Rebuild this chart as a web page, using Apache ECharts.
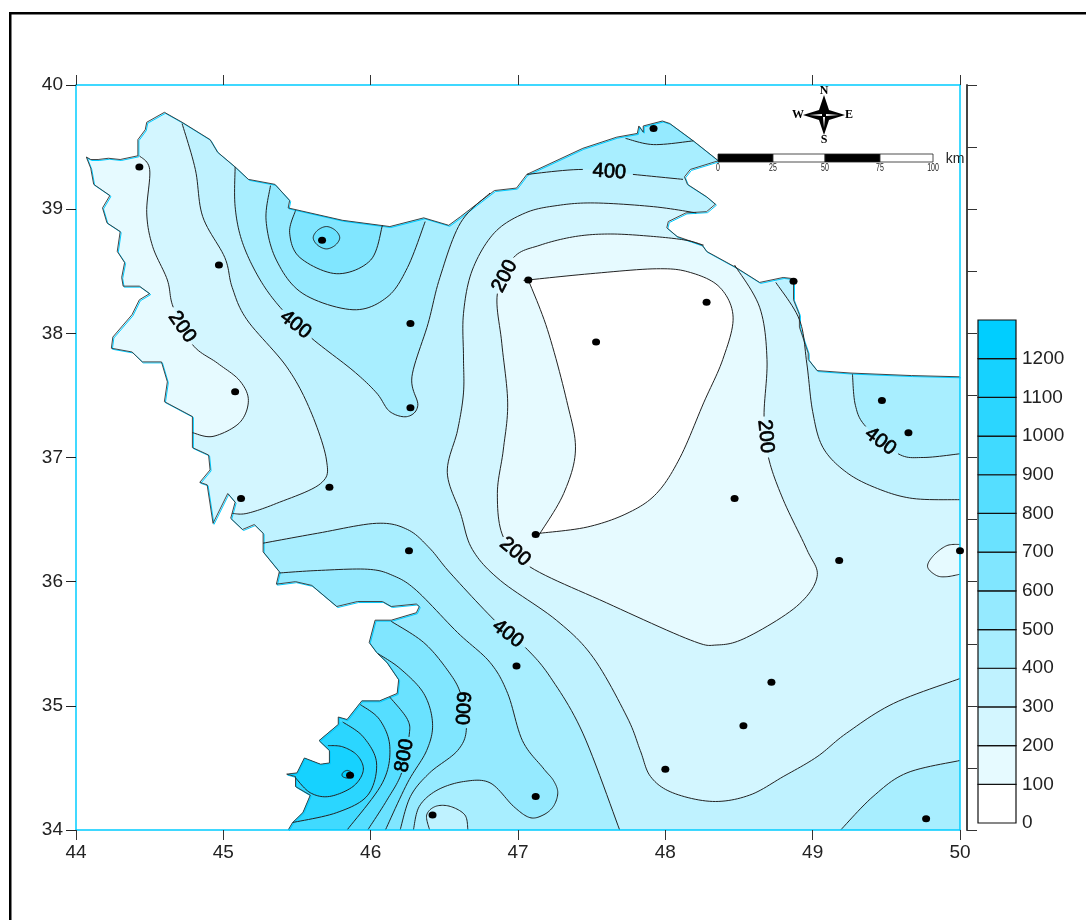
<!DOCTYPE html>
<html><head><meta charset="utf-8">
<style>html,body{margin:0;padding:0;background:#fff;overflow:hidden}#c{width:1086px;height:920px}</style>
<script src="https://cdn.jsdelivr.net/npm/echarts@6/dist/echarts.min.js"></script>
</head><body><div id="c"></div>
<script>
// ---------- data (lon, lat) ----------
const xTicks=[44,45,46,47,48,49,50];
const yTicks=[34,35,36,37,38,39,40];
const legendLevels=[0,100,200,300,400,500,600,700,800,900,1000,1100,1200];
const legendColors=['#FFFFFF','#E6FAFF','#D3F6FF','#BFF2FF','#A8EEFF','#95EAFF','#80E6FF','#6AE2FF','#55DEFF','#40DAFF','#2BD6FF','#16D2FF','#00CEFF'];
const stations=[[44.43,39.34],[44.97,38.55],[45.08,37.53],[45.12,36.67],[45.72,36.76],[45.67,38.75],[46.27,38.08],[46.27,37.40],[47.07,38.43],[47.92,39.65],[48.28,38.25],[47.53,37.93],[48.87,38.42],[47.12,36.38],[48.47,36.67],[46.26,36.25],[49.18,36.17],[50,36.25],[49.47,37.46],[49.65,37.20],[46.99,35.32],[48.72,35.19],[48.53,34.84],[48.00,34.49],[45.86,34.44],[47.12,34.27],[46.42,34.12],[49.77,34.09]];
const boundaryNorth=[[44.07,39.42],[44.10,39.40],[44.15,39.40],[44.22,39.41],[44.30,39.40],[44.42,39.43],[44.42,39.56],[44.47,39.64],[44.48,39.70],[44.60,39.78],[44.72,39.70],[44.91,39.56],[44.96,39.46],[45.08,39.34],[45.17,39.24],[45.35,39.20],[45.45,39.07],[45.44,39.01],[45.81,38.91],[46.13,38.86],[46.36,38.93],[46.53,38.87],[46.61,38.94],[46.84,39.15],[46.99,39.17],[47.06,39.28],[47.44,39.49],[47.67,39.58],[47.81,39.61],[47.82,39.67],[47.85,39.62],[47.85,39.67],[47.98,39.71],[48.03,39.69],[48.19,39.55],[48.36,39.39],[48.17,39.32],[48.13,39.26],[48.15,39.20],[48.28,39.10],[48.34,39.04],[48.28,38.98],[48.14,38.97],[48.02,38.90],[48.01,38.85],[48.08,38.78],[48.25,38.71],[48.28,38.66],[48.48,38.53],[48.64,38.41],[48.80,38.45],[48.87,38.44],[48.87,38.27],[48.91,38.15],[48.91,38.05],[48.97,37.84],[48.97,37.79],[49.03,37.70],[49.26,37.68],[49.67,37.66],[50,37.65]];
const boundaryCorner=[[50,34]];
const boundarySouth=[[45.44,34],[45.47,34.06],[45.54,34.14],[45.59,34.28],[45.49,34.35],[45.49,34.43],[45.43,34.45],[45.50,34.46],[45.55,34.58],[45.66,34.53],[45.72,34.54],[45.72,34.64],[45.65,34.72],[45.78,34.85],[45.78,34.91],[45.84,34.89],[45.94,35.04],[46.06,35.04],[46.18,35.10],[46.19,35.21],[46.11,35.35],[46.04,35.43],[45.99,35.51],[46.03,35.69],[46.14,35.69],[46.31,35.75],[46.33,35.80],[46.31,35.82],[46.14,35.80],[46.08,35.84],[45.91,35.84],[45.77,35.80],[45.60,35.97],[45.49,36.00],[45.36,35.98],[45.38,36.08],[45.27,36.24],[45.27,36.39],[45.21,36.46],[45.13,36.42],[45.05,36.51],[45.08,36.64],[45.03,36.71],[44.93,36.47],[44.89,36.78],[44.84,36.80],[44.91,36.90],[44.90,37.02],[44.79,37.08],[44.79,37.33],[44.60,37.45],[44.62,37.61],[44.58,37.77],[44.45,37.77],[44.38,37.85],[44.24,37.88],[44.25,37.97],[44.38,38.15],[44.43,38.27],[44.50,38.32],[44.43,38.38],[44.32,38.38],[44.31,38.45],[44.33,38.57],[44.28,38.66],[44.30,38.82],[44.21,38.89],[44.18,39.01],[44.23,39.11],[44.12,39.20],[44.10,39.33],[44.07,39.42]];

// contour lines; null marks the gap where a contour label sits
const west200=[[44.43,39.43],[44.50,39.32],[44.48,38.97],[44.52,38.70],[44.62,38.43],[44.66,38.21],null,[44.79,37.91],[44.96,37.76],[45.11,37.62],[45.17,37.46],[45.11,37.28],[44.93,37.17],[44.79,37.20]];
const west200Out=[[44.5,37.1],[43.9,37.1],[43.8,39.55],[44.23,39.55]];
const west300=[[44.72,39.69],[44.81,39.32],[44.86,38.94],[45.01,38.61],[45.06,38.37],[45.16,38.11],[45.43,37.73],[45.59,37.38],[45.70,36.98],[45.66,36.79],[45.36,36.63],[45.16,36.55],[45.06,36.55]];
const west300Out=[[44.94,36.34],[43.8,37],[43.75,39.8],[44.67,39.88]];
const nw400=[[45.08,39.34],[45.08,39.02],[45.13,38.73],[45.25,38.43],[45.40,38.19],null,[45.60,37.96],[45.88,37.70],[46.04,37.52],[46.13,37.37],[46.25,37.33],[46.32,37.42],[46.28,37.65],[46.39,38.08],[46.47,38.45],[46.61,38.89],[46.81,39.13]];
const nw400Out=[[46.81,39.32],[45.11,39.56]];
const nw500=[[45.32,39.19],[45.29,38.91],[45.36,38.59],[45.54,38.32],[45.88,38.19],[46.11,38.29],[46.25,38.53],[46.37,38.90]];
const nw500Out=[[46.37,39.2],[45.32,39.5]];
const nw600=[[45.49,38.99],[45.45,38.81],[45.52,38.61],[45.77,38.48],[46.00,38.59],[46.08,38.87]];
const nw600Out=[[46.08,39.1],[45.49,39.2]];
const nw700=[[45.61,38.77],[45.64,38.83],[45.70,38.86],[45.76,38.83],[45.79,38.77],[45.76,38.71],[45.70,38.68],[45.64,38.71]];
const north400=[[47.06,39.28],[47.44,39.32],null,[47.78,39.28],[48.12,39.24]];
const north400Out=[[48.5,39.24],[48.5,40],[47,40],[47,39.28]];
const north500=[[47.73,39.57],[47.92,39.52],[48.19,39.55]];
const north500Out=[[48.4,39.8],[47.7,39.8]];
const centre300=[[48.21,38.97],[47.92,39.02],[47.52,39.05],[47.27,39.03],[47.05,38.97],[46.84,38.81],[46.69,38.51],[46.63,38.16],[46.63,37.81],[46.63,37.52],[46.59,37.22],[46.52,36.88],[46.61,36.55],[46.69,36.26],[46.88,36.01],[47.26,35.69],[47.51,35.39],[47.74,34.91],[47.83,34.64],[47.90,34.43],[48.05,34.30],[48.32,34.23],[48.57,34.28],[48.80,34.43],[49.03,34.59],[49.23,34.78],[49.55,35.02],[50,35.22]];
const centre300OutA=[[51,35.22],[51,36.66]];
const east300=[[50,36.66],[49.68,36.67],[49.44,36.75],[49.23,36.88],[49.07,37.08],[49.00,37.37],[48.96,37.76],[48.91,38.11],[48.75,38.41]];
const east300Out=[[48.76,38.49],[48.64,38.59],[48.37,38.87]];
const centre200=[[48.26,38.71],[48.14,38.75],[47.92,38.78],[47.63,38.80],[47.39,38.78],[47.15,38.71],[46.97,38.61],null,[46.86,38.32],[46.89,37.92],[46.93,37.44],[46.90,37.06],[46.86,36.71],[46.90,36.36],null,[47.08,36.12],[47.60,35.83],[48.17,35.53],[48.35,35.49],[48.55,35.55],[48.89,35.80],[49.03,36.04],[48.96,36.26],[48.80,36.66],[48.70,37.00],null,[48.67,37.33],[48.69,37.79],[48.64,38.21],[48.47,38.55]];
const centre200Out=[[48.41,38.67]];
const centre100=[[47.07,38.43],[47.07,38.43],[47.49,38.48],[47.94,38.52],[48.17,38.49],[48.37,38.37],[48.46,38.13],[48.39,37.79],[48.26,37.44],[48.10,37.00],[47.94,36.71],[47.74,36.55],[47.47,36.44],[47.15,36.39],[47.15,36.39],[47.31,36.71],[47.39,37.06],[47.33,37.46],[47.20,38.03],[47.07,38.43]];
const east400=[[49.27,37.67],[49.29,37.42],[49.36,37.25],null,[49.58,37.03],[49.75,37.00],[50,37.03]];
const east400Out=[[51,37.03],[51,38],[49.27,38]];
const southEast400=[[49.19,34],[49.41,34.27],[49.64,34.46],[50,34.56]];
const southEast400Out=[[51,34.56],[51,33.5],[49.19,33.5]];
const east200=[[50,36.30],[49.91,36.29],[49.82,36.21],[49.78,36.12],[49.84,36.05],[49.91,36.04],[50,36.06]];
const east200Out=[[51,36.06],[51,36.30]];
const south400=[[45.27,36.31],[45.64,36.39],[46.04,36.47],[46.25,36.42],[46.40,36.27],[46.54,36.07],[46.84,35.69],null,[47.05,35.47],[47.22,35.23],[47.44,34.78],[47.69,34]];
const south400Out=[[47.69,33.5],[45,33.5],[45,36.31]];
const south500=[[45.38,36.07],[45.64,36.09],[45.98,36.10],[46.15,36.05],[46.31,35.93],[46.59,35.59],[46.81,35.35],[46.93,35.10],[47.03,34.72],[47.17,34.50],[47.24,34.40],[47.27,34.30],[47.24,34.19],[47.17,34.12],[47.08,34.10],[46.97,34.19],[46.81,34.38],[46.63,34.39],[46.45,34.32],[46.33,34.19],[46.29,34]];
const south500Out=[[46.29,33.5],[45,33.5],[45,36.07]];
const south600=[[46.14,35.68],[46.36,35.51],[46.52,35.29],[46.61,35.10],null,[46.65,34.82],[46.59,34.64],[46.40,34.46],[46.27,34.27],[46.20,34]];
const south600Out=[[46.20,33.5],[45,33.5],[45,35.68]];
const south700=[[46.05,35.42],[46.20,35.30],[46.36,35.10],[46.42,34.86],[46.38,34.64],[46.25,34.38],[46.10,34]];
const south700Out=[[46.10,33.5],[45,33.5],[45,35.42]];
const south800=[[46.13,35.07],[46.25,34.89],[46.26,34.75],null,[46.21,34.46],[46.11,34.24],[45.98,34]];
const south800Out=[[45.98,33.5],[45,33.5],[45,35.07]];
const south900=[[45.93,35.01],[46.06,34.89],[46.13,34.67],[46.08,34.38],[45.84,34]];
const south900Out=[[45.84,33.5],[45,33.5],[45,35.01]];
const south1000=[[45.81,34.87],[45.95,34.75],[46.04,34.54],[45.98,34.28],[45.77,34.14],[45.47,34.06]];
const south1000Out=[[45.2,34.06],[45.2,34.87]];
const south1100=[[45.49,34.42],[45.59,34.30],[45.72,34.27],[45.88,34.35],[45.95,34.48],[45.91,34.60],[45.81,34.67],[45.71,34.68]];
const south1100Out=[[45.5,34.75],[45.3,34.42]];
const south1200=[[45.81,34.46],[45.84,34.48],[45.87,34.46],[45.85,34.42],[45.81,34.43]];
const pocket300=[[46.40,34],[46.38,34.12],[46.44,34.19],[46.54,34.19],[46.64,34.12],[46.66,34]];
const pocket300Out=[[46.66,33.5],[46.40,33.5]];

const labelTexts=['200','400','400','200','200','200','400','400','600','800'];
const labelPositions=[[44.72,38.05],[45.49,38.07],[47.62,39.30],[46.91,38.46],[46.98,36.24],[48.68,37.17],[49.46,37.13],[46.93,35.58],[46.62,34.98],[46.23,34.60]];
const labelAngles=[-55,-38,-4,63,-40,-85,-37,-38,-93,80];
const scaleLabels=['0','25','50','75','100'];

// ---------- drawing ----------
const C=Object.fromEntries(legendLevels.map((v,i)=>[v,legendColors[i]]));
const fillBands=[
 {color:C[300],path:[{out:boundaryNorth.concat(boundaryCorner,boundarySouth)}]},
 {color:C[200],path:[{line:west300},{out:west300Out}]},
 {color:C[100],path:[{line:west200},{out:west200Out}]},
 {color:C[400],path:[{line:nw400},{out:nw400Out}]},
 {color:C[500],path:[{line:nw500},{out:nw500Out}]},
 {color:C[600],path:[{line:nw600},{out:nw600Out}]},
 {color:C[700],path:[{line:nw700,closed:true}]},
 {color:C[400],path:[{line:north400},{out:north400Out}]},
 {color:C[500],path:[{line:north500},{out:north500Out}]},
 {color:C[200],path:[{line:centre300},{out:centre300OutA},{line:east300},{out:east300Out}]},
 {color:C[100],path:[{line:centre200},{out:centre200Out}]},
 {color:C[0],path:[{line:centre100}]},
 {color:C[400],path:[{line:east400},{out:east400Out}]},
 {color:C[400],path:[{line:southEast400},{out:southEast400Out}]},
 {color:C[100],path:[{line:east200},{out:east200Out}]},
 {color:C[400],path:[{line:south400},{out:south400Out}]},
 {color:C[500],path:[{line:south500},{out:south500Out}]},
 {color:C[600],path:[{line:south600},{out:south600Out}]},
 {color:C[700],path:[{line:south700},{out:south700Out}]},
 {color:C[800],path:[{line:south800},{out:south800Out}]},
 {color:C[900],path:[{line:south900},{out:south900Out}]},
 {color:C[1000],path:[{line:south1000},{out:south1000Out}]},
 {color:C[1100],path:[{line:south1100},{out:south1100Out}]},
 {color:C[1200],path:[{line:south1200,closed:true}]},
 {color:C[300],path:[{line:pocket300},{out:pocket300Out}]}
];
const contourLines=[];
fillBands.slice(1).forEach(b=>b.path.forEach(p=>{if(p.line)contourLines.push(p);}));

function spline(pts,closed){
  const p=[],gaps=new Set();
  pts.forEach(q=>{if(q===null)gaps.add(p.length-1);else p.push(q);});
  const n=p.length,segs=[],last=closed?n:n-1;
  const at=i=>closed?p[(i+n)%n]:p[Math.max(0,Math.min(n-1,i))];
  for(let i=0;i<last;i++){
    const a=at(i-1),b=at(i),c=at(i+1),d=at(i+2),s=[];
    for(let k=0;k<=12;k++){
      const t=k/12,t2=t*t,t3=t2*t;
      s.push([0,1].map(j=>0.5*(2*b[j]+(c[j]-a[j])*t+(2*a[j]-5*b[j]+4*c[j]-d[j])*t2+(3*b[j]-a[j]-3*c[j]+d[j])*t3)));
    }
    segs.push({pts:s,gap:gaps.has(i)});
  }
  return segs;
}
const toPx=(arr,api)=>arr.map(q=>q&&api.coord(q));

const serif='"Liberation Serif",serif';
const sans='"Liberation Sans",Arial,sans-serif';
const barY=154,barH=8,barX=[718,773,825,880,933];
const graphics=[
 {type:'rect',shape:{x:9,y:12,width:2.5,height:908},style:{fill:'#000'},z:10},
 {type:'rect',shape:{x:9,y:12,width:1077,height:2.5},style:{fill:'#000'},z:10}
];
scaleLabels.forEach((t,i)=>{
  if(i<4)graphics.push({type:'rect',shape:{x:barX[i],y:barY,width:barX[i+1]-barX[i],height:barH},style:{fill:i%2?'#fff':'#000',stroke:'#222',lineWidth:0.8},z:10});
  graphics.push({type:'text',x:barX[i],y:168,scaleX:0.7,style:{text:t,font:'10px '+sans,fill:'#222',textAlign:'center',textVerticalAlign:'middle'},z:10});
});
graphics.push({type:'text',x:955,y:159,style:{text:'km',font:'14px '+sans,fill:'#222',textAlign:'center',textVerticalAlign:'middle'},z:10});
const cx=824,cy=115;
graphics.push({type:'polygon',shape:{points:[[cx,cy-20],[cx+5,cy-5],[cx+21,cy],[cx+5,cy+5],[cx,cy+20],[cx-5,cy+5],[cx-21,cy],[cx-5,cy-5]]},style:{fill:'#000'},z:10});
graphics.push({type:'polygon',shape:{points:[[cx+2,cy-1],[cx+15,cy],[cx+2,cy+1]]},style:{fill:'#fff'},z:11});
graphics.push({type:'polygon',shape:{points:[[cx-2,cy+1],[cx-15,cy],[cx-2,cy-1]]},style:{fill:'#fff'},z:11});
graphics.push({type:'polygon',shape:{points:[[cx-1,cy+2],[cx,cy+13],[cx+1,cy+2]]},style:{fill:'#fff'},z:11});
[['N',cx,cy-24],['S',cx,cy+25],['W',cx-26,cy],['E',cx+25,cy]].forEach(d=>graphics.push({type:'text',x:d[1],y:d[2],style:{text:d[0],font:'bold 12px '+serif,fill:'#000',textAlign:'center',textVerticalAlign:'middle'},z:10}));

const axisText={color:'#222',fontSize:19,fontFamily:sans};
const chart=echarts.init(document.getElementById('c'),null,{renderer:'canvas'});
const cyan='#00CCFF';
chart.setOption({
 animation:false,backgroundColor:'#fff',
 graphic:graphics,
 grid:[{left:76,top:85,width:884,height:745},{left:978,top:320,width:38,height:503}],
 xAxis:[
  {gridIndex:0,type:'value',min:xTicks[0],max:xTicks[xTicks.length-1],interval:1,position:'bottom',z:5,
   axisLine:{show:true,lineStyle:{color:cyan,width:1.5}},axisTick:{show:true,length:10,lineStyle:{color:'#333',width:1}},axisLabel:Object.assign({margin:13,hideOverlap:false,showMinLabel:true,showMaxLabel:true},axisText),splitLine:{show:false}},
  {gridIndex:0,type:'value',min:xTicks[0],max:xTicks[xTicks.length-1],interval:1,position:'top',z:5,
   axisLine:{show:true,lineStyle:{color:cyan,width:1.5}},axisTick:{show:true,length:10,lineStyle:{color:'#333',width:1}},axisLabel:{show:false},splitLine:{show:false}},
  {gridIndex:1,type:'value',min:0,max:1,show:false}
 ],
 yAxis:[
  {gridIndex:0,type:'value',min:yTicks[0],max:yTicks[yTicks.length-1],interval:1,position:'left',z:5,
   axisLine:{show:true,lineStyle:{color:cyan,width:1.5}},axisTick:{show:true,length:10,lineStyle:{color:'#222',width:1}},axisLabel:Object.assign({margin:13,showMinLabel:true,showMaxLabel:true},axisText),splitLine:{show:false}},
  {gridIndex:0,type:'value',min:yTicks[0],max:yTicks[yTicks.length-1],interval:1,position:'right',z:5,
   axisLine:{show:true,lineStyle:{color:cyan,width:1.5}},axisTick:{show:false},axisLabel:{show:false},splitLine:{show:false}},
  {gridIndex:0,type:'value',min:yTicks[0],max:yTicks[yTicks.length-1],interval:0.5,position:'right',offset:7,z:5,
   axisLine:{show:true,lineStyle:{color:'#444',width:2}},axisTick:{show:true,length:10,lineStyle:{color:'#333',width:1}},axisLabel:{show:false},splitLine:{show:false}},
  {gridIndex:1,type:'value',min:0,max:1300,interval:100,position:'right',
   axisLine:{show:false},axisTick:{show:false},splitLine:{show:false},
   axisLabel:Object.assign({margin:6,showMinLabel:true,showMaxLabel:true,formatter:v=>legendLevels.indexOf(v)>=0?String(v):''},axisText)}
 ],
 series:[
  {type:'custom',name:'fills',xAxisIndex:0,yAxisIndex:0,z:2,clip:false,silent:true,
   data:fillBands.map(()=>[44,34]),
   renderItem(params,api){
     const band=fillBands[params.dataIndex],pts=[];
     band.path.forEach(part=>{
       if(part.out)toPx(part.out,api).forEach(q=>pts.push(q));
       else spline(toPx(part.line,api),part.closed).forEach(s=>s.pts.forEach(q=>pts.push(q)));
     });
     const clip=toPx(boundaryNorth.concat(boundaryCorner,boundarySouth),api);
     return {type:'polygon',shape:{points:pts},style:{fill:band.color},clipPath:{type:'polygon',shape:{points:clip}}};
   }},
  {type:'custom',name:'boundary',xAxisIndex:0,yAxisIndex:0,z:3,clip:false,silent:true,
   data:[[44,34]],
   renderItem(params,api){
     const n=toPx(boundaryNorth,api),s=toPx(boundarySouth,api);
     const mk=(p,col,off,w)=>({type:'polyline',x:off,y:off,shape:{points:p},style:{stroke:col,lineWidth:w,fill:'none'}});
     return {type:'group',children:[mk(n,cyan,1,1),mk(s,cyan,1,1),mk(n,'#333',0,0.9),mk(s,'#333',0,0.9)]};
   }},
  {type:'custom',name:'contours',xAxisIndex:0,yAxisIndex:0,z:4,clip:false,silent:true,
   data:contourLines.map(()=>[44,34]),
   renderItem(params,api){
     const part=contourLines[params.dataIndex],runs=[[]];
     spline(toPx(part.line,api),part.closed).forEach(s=>{
       if(s.gap){runs.push([]);return;}
       s.pts.forEach(q=>runs[runs.length-1].push(q));
     });
     return {type:'group',children:runs.filter(r=>r.length).map(r=>({type:'polyline',shape:{points:r},style:{stroke:'#222',lineWidth:1,fill:'none'}}))};
   }},
  {type:'scatter',name:'stations',xAxisIndex:0,yAxisIndex:0,z:6,clip:false,silent:true,symbol:'circle',symbolSize:[8,7],itemStyle:{color:'#000',opacity:1},data:stations},
  {type:'custom',name:'labels',xAxisIndex:0,yAxisIndex:0,z:7,clip:false,silent:true,
   data:labelTexts.map(()=>[44,34]),
   renderItem(params,api){
     const i=params.dataIndex,p=api.coord(labelPositions[i]);
     return {type:'text',x:p[0],y:p[1],rotation:labelAngles[i]*Math.PI/180,
       style:{text:labelTexts[i],font:'20px '+sans,fill:'#000',stroke:'#000',lineWidth:0.7,textAlign:'center',textVerticalAlign:'middle'}};
   }},
  {type:'custom',name:'legend',xAxisIndex:2,yAxisIndex:3,z:3,clip:false,silent:true,
   data:legendLevels.map(v=>[0,v]),
   renderItem(params,api){
     const i=params.dataIndex,lo=legendLevels[i],hi=lo+100,a=api.coord([0,hi]),b=api.coord([1,lo]);
     return {type:'rect',shape:{x:a[0],y:a[1],width:b[0]-a[0],height:b[1]-a[1]},style:{fill:legendColors[i],stroke:'#111',lineWidth:1.2}};
   }}
 ]
});
</script></body></html>
